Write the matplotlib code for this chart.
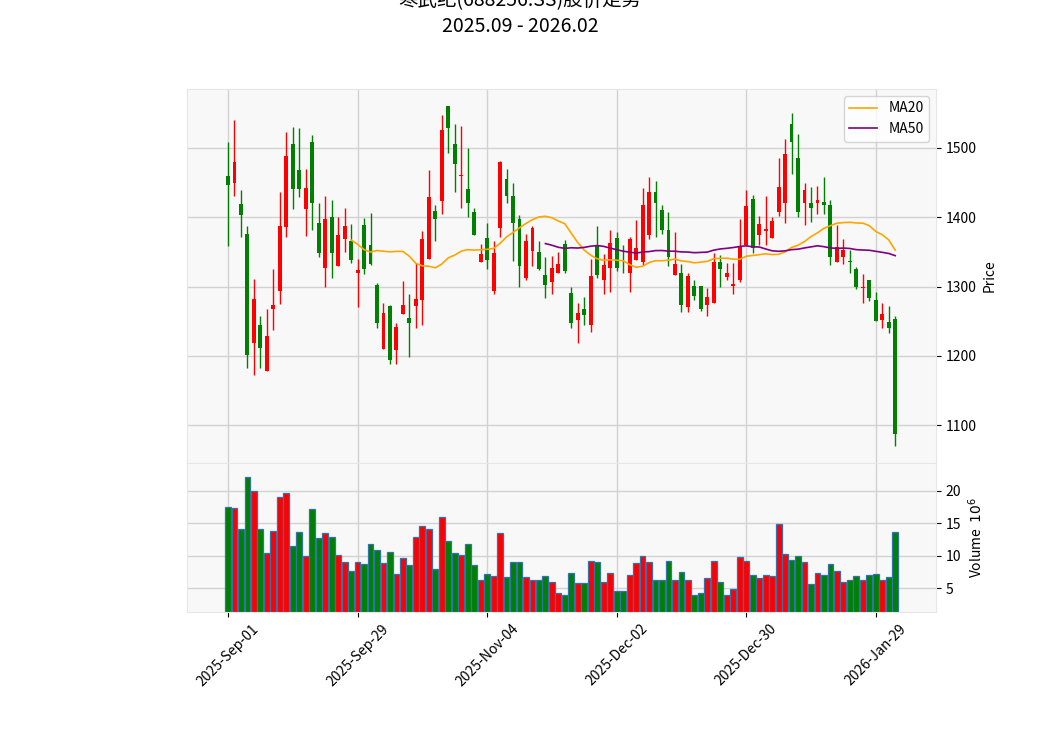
import numpy as np
import pandas as pd
import matplotlib
matplotlib.use('Agg')
import matplotlib.pyplot as plt

plt.rcParams['font.family'] = ['Noto Sans CJK SC', 'DejaVu Sans']

# trading days (China A-share calendar, holidays removed)
holidays = ['2025-10-01', '2025-10-02', '2025-10-03', '2025-10-06', '2025-10-07',
            '2025-10-08', '2026-01-01', '2026-01-02']
dates = pd.bdate_range('2025-09-01', '2026-02-03')
dates = dates[~dates.isin(pd.to_datetime(holidays))]

opens = [1460, 1450, 1419, 1376, 1219, 1245, 1179, 1267, 1294, 1386,
         1506, 1468, 1412, 1509, 1392, 1327, 1400, 1329, 1369, 1366,
         1319, 1389, 1360, 1302, 1210, 1272, 1208, 1260, 1255, 1272,
         1281, 1340, 1409, 1424, 1561, 1506, 1459, 1441, 1408, 1335,
         1370, 1294, 1385, 1455, 1431, 1398, 1312, 1352, 1350, 1317,
         1306, 1319, 1361, 1291, 1252, 1268, 1244, 1358, 1309, 1327,
         1370, 1333, 1320, 1339, 1335, 1375, 1437, 1411, 1382, 1316,
         1320, 1270, 1301, 1301, 1274, 1277, 1336, 1314, 1301, 1309,
         1360, 1426, 1375, 1380, 1370, 1408, 1420, 1535, 1485, 1420,
         1421, 1420, 1422, 1418, 1335, 1343, 1337, 1326, 1298, 1310,
         1281, 1252, 1249, 1254]
highs = [1508, 1540, 1439, 1388, 1311, 1258, 1268, 1325, 1436, 1523,
         1530, 1528, 1469, 1518, 1421, 1430, 1425, 1400, 1414, 1390,
         1340, 1399, 1406, 1305, 1277, 1274, 1247, 1308, 1289, 1334,
         1380, 1468, 1418, 1548, 1561, 1534, 1531, 1500, 1414, 1361,
         1392, 1366, 1481, 1469, 1450, 1403, 1376, 1388, 1366, 1342,
         1344, 1350, 1367, 1299, 1276, 1285, 1340, 1388, 1347, 1381,
         1378, 1360, 1371, 1396, 1442, 1458, 1452, 1418, 1407, 1378,
         1332, 1320, 1309, 1301, 1298, 1349, 1346, 1334, 1334, 1397,
         1439, 1432, 1402, 1430, 1400, 1486, 1513, 1550, 1520, 1450,
         1443, 1445, 1458, 1425, 1389, 1369, 1353, 1328, 1318, 1310,
         1292, 1277, 1272, 1258]
lows = [1358, 1430, 1371, 1182, 1172, 1182, 1179, 1237, 1275, 1371,
        1412, 1429, 1373, 1381, 1342, 1300, 1313, 1329, 1350, 1334,
        1270, 1318, 1331, 1241, 1210, 1189, 1189, 1260, 1199, 1241,
        1245, 1340, 1366, 1405, 1492, 1437, 1414, 1400, 1375, 1335,
        1326, 1290, 1371, 1421, 1337, 1300, 1310, 1329, 1324, 1283,
        1290, 1319, 1319, 1240, 1218, 1245, 1234, 1313, 1290, 1292,
        1322, 1319, 1292, 1339, 1331, 1368, 1371, 1376, 1329, 1316,
        1263, 1263, 1280, 1265, 1257, 1277, 1300, 1309, 1290, 1306,
        1360, 1348, 1360, 1360, 1370, 1402, 1392, 1463, 1400, 1389,
        1393, 1404, 1404, 1331, 1335, 1332, 1319, 1296, 1276, 1279,
        1251, 1240, 1233, 1070]
closes = [1447, 1480, 1403, 1202, 1282, 1212, 1229, 1274, 1387, 1488,
          1440, 1440, 1442, 1420, 1349, 1398, 1349, 1375, 1388, 1339,
          1324, 1325, 1332, 1247, 1262, 1194, 1242, 1274, 1247, 1282,
          1369, 1429, 1398, 1526, 1529, 1477, 1461, 1421, 1375, 1347,
          1339, 1349, 1480, 1431, 1391, 1329, 1366, 1384, 1325, 1302,
          1327, 1333, 1322, 1248, 1262, 1259, 1315, 1317, 1331, 1363,
          1327, 1332, 1369, 1356, 1418, 1437, 1420, 1381, 1343, 1333,
          1273, 1315, 1287, 1267, 1285, 1336, 1326, 1320, 1304, 1357,
          1416, 1355, 1390, 1383, 1395, 1444, 1491, 1509, 1407, 1439,
          1414, 1425, 1418, 1342, 1357, 1353, 1335, 1300, 1300, 1283,
          1251, 1260, 1241, 1088]
# volume in millions of shares
volumes = [17.5, 17.4, 14.1, 22.2, 20.0, 14.1, 10.4, 13.8, 19.1, 19.7,
           11.5, 13.6, 9.9, 17.2, 12.7, 13.5, 12.9, 10.1, 9.0, 7.6,
           9.0, 8.7, 11.8, 10.9, 8.8, 10.5, 7.1, 9.6, 8.5, 12.9,
           14.6, 14.1, 7.9, 16.0, 12.2, 10.4, 10.1, 11.8, 8.5, 6.3,
           7.1, 6.8, 13.5, 6.7, 9.0, 9.0, 6.7, 6.2, 6.2, 6.8,
           6.0, 4.2, 3.9, 7.3, 5.8, 5.8, 9.1, 9.0, 5.9, 7.3,
           4.6, 4.5, 7.0, 8.8, 9.9, 9.0, 6.3, 6.2, 9.1, 6.3,
           7.4, 6.3, 3.9, 4.3, 6.5, 9.1, 5.9, 4.0, 4.8, 9.8,
           9.1, 7.0, 6.5, 7.0, 6.8, 14.9, 10.2, 9.4, 9.9, 9.0,
           5.7, 7.3, 7.0, 8.7, 7.6, 5.9, 6.3, 6.8, 6.3, 7.0,
           7.1, 6.3, 6.7, 13.6]

df = pd.DataFrame({'Open': opens, 'High': highs, 'Low': lows,
                   'Close': closes, 'Volume': volumes}, index=dates)
df['MA20'] = df['Close'].rolling(20).mean()
df['MA50'] = df['Close'].rolling(50).mean()

x = np.arange(len(df))
up = df['Close'] > df['Open']
colors = np.where(up, 'red', 'green')

fig = plt.figure(figsize=(10.4, 7.47), dpi=100)
ax = fig.add_axes([0.18, 0.38, 0.72, 0.501])
axv = fig.add_axes([0.18, 0.1807, 0.72, 0.1995], sharex=ax)

for a in (ax, axv):
    a.set_facecolor('#f8f8f8')
    a.grid(True, color='#d2d2d2', linewidth=1)
    a.set_axisbelow(True)
    for s in a.spines.values():
        s.set_color('#e6e6e6')
    a.yaxis.tick_right()
    a.yaxis.set_label_position('right')
    a.tick_params(labelsize=10)

# candles
ax.vlines(x, df['Low'], df['High'], colors=colors, linewidth=1)
body = (df['Close'] - df['Open']).abs().clip(lower=0.8)
ax.bar(x, body, bottom=np.minimum(df['Open'], df['Close']), width=0.6,
       color=colors, linewidth=0)
ax.plot(x, df['MA20'], color='orange', linewidth=1.2, label='MA20')
ax.plot(x, df['MA50'], color='purple', linewidth=1.2, label='MA50')
ax.legend(loc='upper right', fontsize=10)
ax.set_ylabel('Price', fontsize=10)
ax.set_ylim(1045.5, 1585)
ax.set_yticks([1100, 1200, 1300, 1400, 1500])
ax.tick_params(axis='x', labelbottom=False)

# volume
axv.bar(x, df['Volume'], width=0.9, color=colors, edgecolor='#2f73b5', linewidth=0.9)
axv.set_ylim(1.3, 24.3)
axv.set_yticks([5, 10, 15, 20])
axv.set_ylabel('Volume  $10^{6}$', fontsize=10)

ticks = x[::20]
axv.set_xticks(ticks)
axv.set_xticklabels([d.strftime('%Y-%b-%d') for d in df.index[ticks]], rotation=45)
axv.set_xlim(-6.3, 109.3)

fig.text(0.5, 0.951, '寒武纪(688256.SS)股价走势\n2025.09 - 2026.02',
         ha='center', va='bottom', fontsize=14, linespacing=1.25)

fig.savefig('out.png', dpi=100)
